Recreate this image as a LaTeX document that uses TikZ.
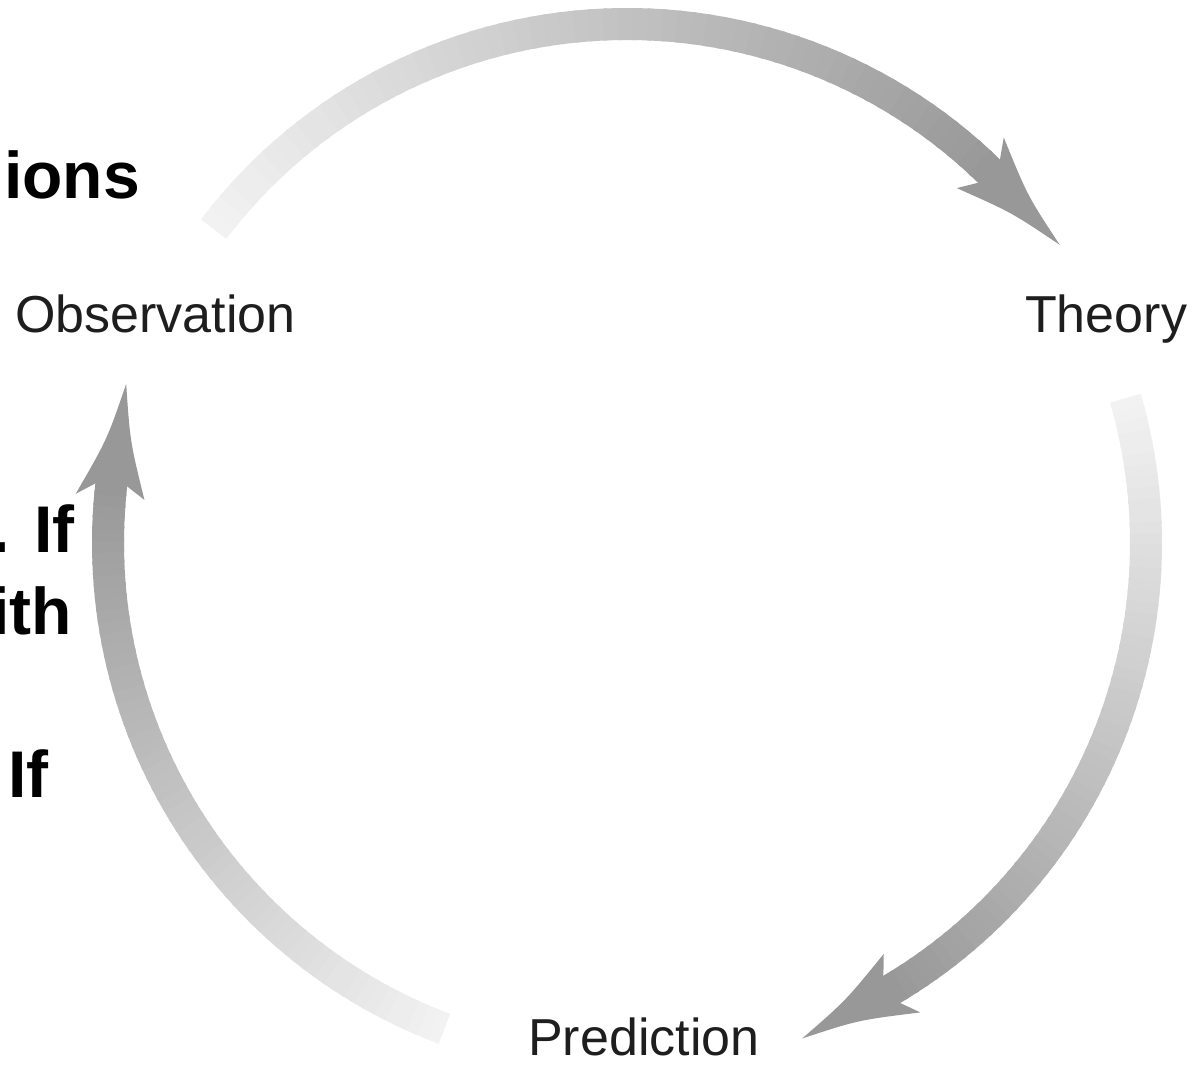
\documentclass[tikz,border=0pt]{standalone}
\usepackage{fontspec}
\setmainfont{Liberation Sans}
\usetikzlibrary{calc}
\definecolor{glight}{RGB}{242,242,242}
\definecolor{gdark}{RGB}{152,152,152}
\definecolor{labelcol}{RGB}{30,30,30}
\newcommand\myGradArc[2]{% tail angle, shaft end angle
  \foreach \k in {0,...,59}{
    \pgfmathsetmacro\aa{#1+(#2-#1)*\k/60}
    \pgfmathsetmacro\ab{#1+(#2-#1)*(\k+1.3)/60}
    \pgfmathtruncatemacro\pc{100*\k/59}
    \draw[shaft, draw=gdark!\pc!glight] ($(C)+(\aa:519)$) arc[start angle=\aa, end angle=\ab, radius=519pt];
  }}
\newcommand\myHead[1]{% base angle (wing position)
  \begin{scope}[shift={($(C)+(#1:519)$)}, rotate=#1-90]
    \fill[gdark] (0,34.5) .. controls (57,8) .. (114,-6) .. controls (57,-15) .. (0,-34.5) -- (12,-16) -- (12,16) -- cycle;
  \end{scope}}
\begin{document}
\begin{tikzpicture}[x=1pt,y=1pt,
  shaft/.style={line width=32pt, line cap=butt},
  label/.style={inner sep=0pt, text=labelcol, font=\fontsize{52}{60}\selectfont},
  boldtxt/.style={inner sep=0pt, text=black, font=\fontsize{66}{80}\selectfont\bfseries}]
\useasboundingbox (0,0) rectangle (1196,-1065);
\clip (0,0) rectangle (1196,-1065);
\coordinate (C) at (627,-543);
% cut-off bold text at the left edge
\node[boldtxt, anchor=base east] (t1) at (140,-198) {ions};
\node[boldtxt, anchor=base east] (t2) at (75,-552) {. If};
\node[boldtxt, anchor=base east] (t3) at (72,-634) {ith};
\node[boldtxt, anchor=base east] (t4) at (49,-797) {If};
% labels
\node[label, anchor=base west] (obs) at (15,-332) {Observation};
\node[label, anchor=base west] (the) at (1025,-332) {Theory};
\node[label, anchor=base west] (pre) at (528,-1055) {Prediction};
% arcs: Observation -> Theory
\myGradArc{142.8}{45.65}
\myHead{47.1}
% Theory -> Prediction
\myGradArc{16.2}{-59.45}
\myHead{-58}
% Prediction -> Observation
\myGradArc{249.4}{173.45}
\myHead{174.9}
\end{tikzpicture}
\end{document}
